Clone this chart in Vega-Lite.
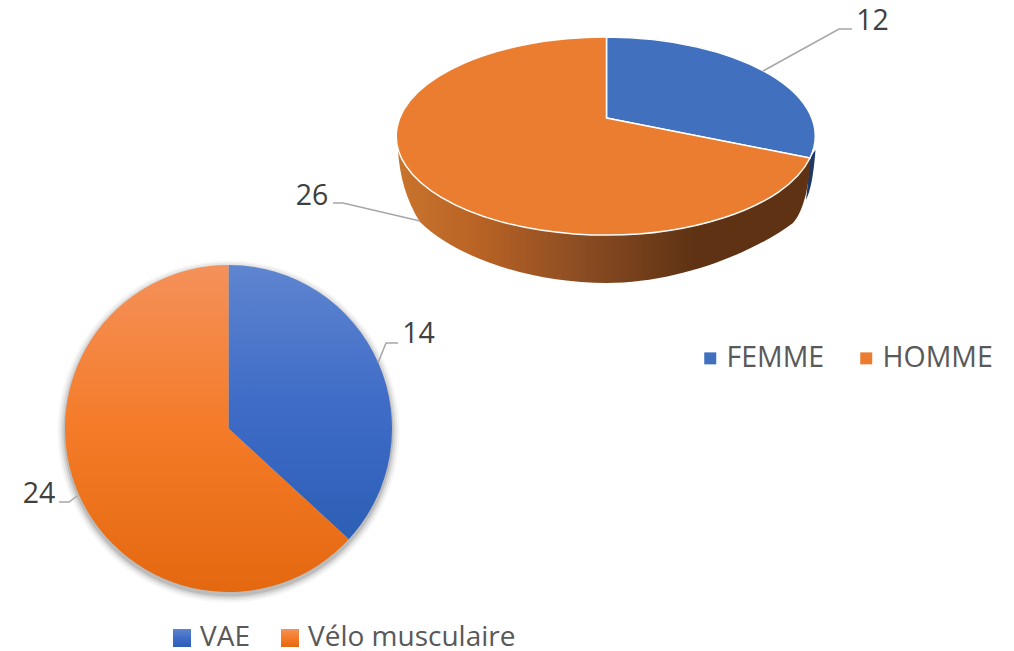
{
"$schema":"https://vega.github.io/schema/vega-lite/v6.json",
"width":1014,"height":651,"padding":0,"autosize":{"type":"none"},"background":"white",
"data":{"values":[
{"graphique":"Mode","categorie":"VAE","valeur":14},
{"graphique":"Mode","categorie":"Vélo musculaire","valeur":24},
{"graphique":"Sexe","categorie":"FEMME","valeur":12},
{"graphique":"Sexe","categorie":"HOMME","valeur":26}
]},
"config":{"view":{"stroke":null},"font":"Open Sans"},
"encoding":{
"x":{"field":"graphique","type":"nominal","axis":null,"scale":{"domain":["Mode","Sexe"],"range":[228.5,606.5],"padding":0}},
"y":{"field":"graphique","type":"nominal","axis":null,"scale":{"domain":["Mode","Sexe"],"range":[428.5,136],"padding":0}}
},
"resolve":{"scale":{"color":"independent","shape":"independent"}},
"layer":[
{"transform":[{"filter":"datum.graphique==='Mode'"}],"mark":{"type":"arc","outerRadius":171,"fill":"#000000","opacity":0.035,"yOffset":3},"encoding":{"theta":{"field":"valeur","type":"quantitative"}}},
{"transform":[{"filter":"datum.graphique==='Mode'"}],"mark":{"type":"arc","outerRadius":169,"fill":"#000000","opacity":0.05,"yOffset":3},"encoding":{"theta":{"field":"valeur","type":"quantitative"}}},
{"transform":[{"filter":"datum.graphique==='Mode'"}],"mark":{"type":"arc","outerRadius":167,"fill":"#000000","opacity":0.08,"yOffset":3},"encoding":{"theta":{"field":"valeur","type":"quantitative"}}},
{"transform":[{"filter":"datum.graphique==='Mode'"}],"mark":{"type":"arc","outerRadius":165,"fill":"#000000","opacity":0.12,"yOffset":3},"encoding":{"theta":{"field":"valeur","type":"quantitative"}}},
{"transform":[{"filter":"datum.graphique==='Mode'"}],
"mark":{"type":"arc","outerRadius":163.5},
"encoding":{
"theta":{"field":"valeur","type":"quantitative"},
"order":{"field":"valeur","type":"quantitative","sort":"ascending"},
"color":{"field":"categorie","type":"nominal",
"scale":{"domain":["VAE","Vélo musculaire"],"range":[
{"expr":"{gradient:'linear',x1:0,y1:0,x2:0,y2:1,stops:[{offset:0,color:'#5f85d0'},{offset:0.5,color:'#3f6cc7'},{offset:1,color:'#2c5fb6'}]}"},
{"expr":"{gradient:'linear',x1:0,y1:0,x2:0,y2:1,stops:[{offset:0,color:'#f4915a'},{offset:0.5,color:'#f47b28'},{offset:1,color:'#e4680f'}]}"}
]},
"legend":{"title":null,"orient":"none","legendX":168,"legendY":624,"direction":"horizontal","columns":2,"symbolType":"square","symbolSize":324,"symbolStrokeWidth":0,"labelFont":"Open Sans","labelFontSize":28,"labelColor":"#595959","labelOffset":4,"columnPadding":26,"labelLimit":400}}
}},
{"transform":[{"filter":"datum.categorie==='FEMME'"}],"mark":{"type":"point","filled":true,"opacity":1,"size":4,"fill":"#203864","strokeWidth":0,"shape":"M 209 14 C 207 40 204 55 199.5 64 L 201 50 L 203 22 Z"}},
{"transform":[{"filter":"datum.categorie==='HOMME'"}],"mark":{"type":"point","filled":true,"opacity":1,"size":4,"strokeWidth":0,"fill":{"gradient":"linear","x1":0,"y1":0,"x2":1,"y2":0,"stops":[{"offset":0,"color":"#c9742c"},{"offset":0.2,"color":"#b86225"},{"offset":0.45,"color":"#8a4c22"},{"offset":0.72,"color":"#5e3213"},{"offset":1,"color":"#5e3213"}]},"shape":"M -208.5 14 C -207 40 -200 65 -186.5 86 C -150 122 -75 147 0 147 C 70 147 145 118 186.5 87 C 197 75 203 50 203.5 22 Z"}},
{"transform":[{"filter":"datum.graphique==='Sexe'"}],
"mark":{"type":"point","filled":true,"opacity":1,"size":4,"stroke":"#ffffff","strokeWidth":1.5},
"encoding":{
"shape":{"field":"categorie","type":"nominal","legend":null,"scale":{"domain":["FEMME","HOMME"],"range":["M 0 -18 L 0 -99 A 209.5 99 0 0 1 203.5 22 Z","M 0 -18 L 203.5 22 A 209.5 99 0 1 1 0 -99 Z"]}},
"color":{"field":"categorie","type":"nominal","legend":null,
"scale":{"domain":["FEMME","HOMME"],"range":["#4170bf","#eb7d31"]}}
}},
{"transform":[{"filter":"datum.graphique==='Sexe'"}],
"mark":{"type":"square","opacity":1,"size":0},
"encoding":{
"color":{"field":"categorie","type":"nominal",
"scale":{"domain":["FEMME","HOMME"],"range":["#4170bf","#eb7d31"]},
"legend":{"title":null,"orient":"none","legendX":696,"legendY":344,"direction":"horizontal","columns":2,"symbolType":"square","symbolSize":144,"symbolStrokeWidth":0,"symbolOpacity":1,"labelFont":"Open Sans","labelFontSize":28.5,"labelColor":"#595959","labelOffset":2,"columnPadding":27,"labelLimit":400}}
}},
{"mark":{"type":"point","filled":false,"opacity":1,"size":4,"stroke":"#a6a6a6","strokeWidth":1.5},
"encoding":{"shape":{"field":"categorie","type":"nominal","legend":null,"scale":{"domain":["VAE","Vélo musculaire","FEMME","HOMME"],"range":["M 149.5 -65.5 L 157.5 -85.5 L 169.5 -85.5","M -151.5 67.5 L -159.5 73.5 L -169.5 73.5","M 156.5 -65 L 232.5 -107 L 245.5 -107","M -186.5 85 L -263.5 67 L -273.5 67"]}}}},
{"transform":[{"filter":"datum.categorie==='FEMME'"}],"mark":{"type":"text","dx":266,"dy":-106,"baseline":"alphabetic","align":"center","font":"Open Sans","fontSize":28.5,"color":"#404040"},"encoding":{"text":{"field":"valeur","type":"quantitative"}}},
{"transform":[{"filter":"datum.categorie==='HOMME'"}],"mark":{"type":"text","dx":-294.5,"dy":69,"baseline":"alphabetic","align":"center","font":"Open Sans","fontSize":28.5,"color":"#404040"},"encoding":{"text":{"field":"valeur","type":"quantitative"}}},
{"transform":[{"filter":"datum.categorie==='VAE'"}],"mark":{"type":"text","dx":190,"dy":-85.5,"baseline":"alphabetic","align":"center","font":"Open Sans","fontSize":28.5,"color":"#404040"},"encoding":{"text":{"field":"valeur","type":"quantitative"}}},
{"transform":[{"filter":"datum.categorie==='Vélo musculaire'"}],"mark":{"type":"text","dx":-189.5,"dy":74.5,"baseline":"alphabetic","align":"center","font":"Open Sans","fontSize":28.5,"color":"#404040"},"encoding":{"text":{"field":"valeur","type":"quantitative"}}}
]
}
